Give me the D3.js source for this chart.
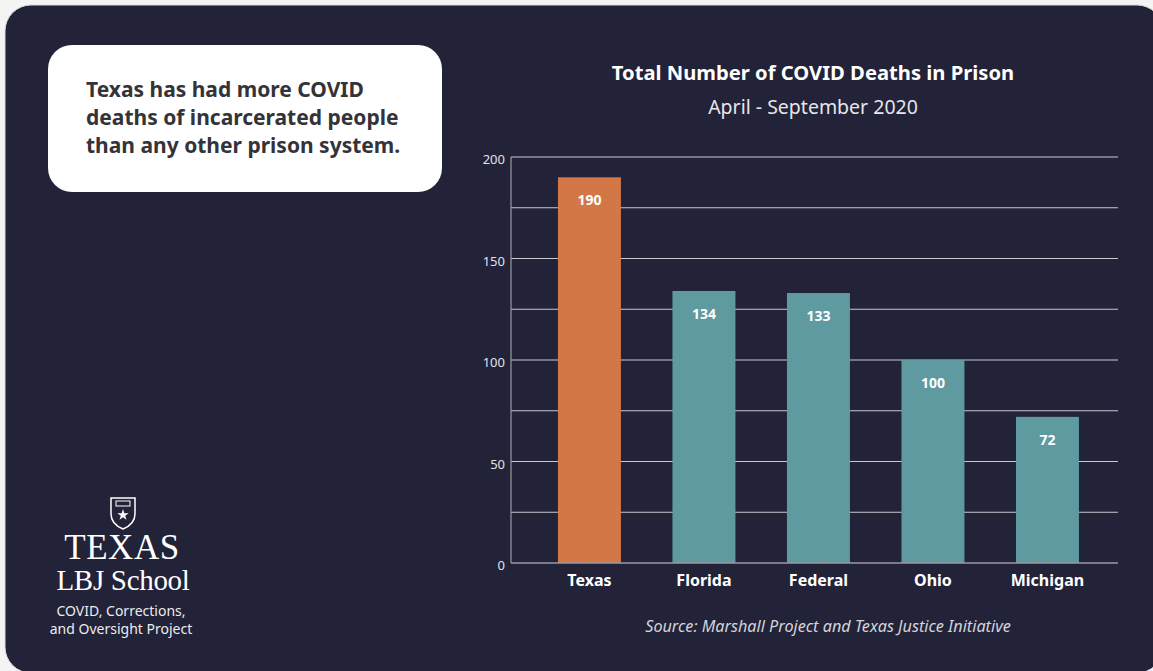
<!DOCTYPE html>
<html><head><meta charset="utf-8">
<script src="https://cdn.jsdelivr.net/npm/d3@7"></script>
<style>
html,body{margin:0;padding:0;background:#f4f4f5;}
svg{display:block;}
</style></head>
<body>
<svg id="c" width="1153" height="671"></svg>
<script>
const categories = ["Texas", "Florida", "Federal", "Ohio", "Michigan"];
const deaths = [190, 134, 133, 100, 72];
const highlight = ["Texas"];
const yTickLabels = [0, 50, 100, 150, 200];
const gridValues = [0, 25, 50, 75, 100, 125, 150, 175, 200];
const title = "Total Number of COVID Deaths in Prison";
const subtitle = "April - September 2020";
const source = "Source: Marshall Project and Texas Justice Initiative";
const callout = ["Texas has had more COVID", "deaths of incarcerated people", "than any other prison system."];
const orgLines = ["COVID, Corrections,", "and Oversight Project"];

const svg = d3.select("#c");
const W = 1153, H = 671;
const bg = "#222238";
const SANS = "'Noto Sans', 'Open Sans', sans-serif";

// panel
svg.append("rect").attr("x", 5).attr("y", 5).attr("width", 1158).attr("height", 668)
  .attr("rx", 26).attr("fill", bg).attr("stroke", "#dcdce0").attr("stroke-width", 1);

// callout
svg.append("rect").attr("x", 48).attr("y", 45).attr("width", 394).attr("height", 147).attr("rx", 24).attr("fill", "#ffffff");
svg.append("g").selectAll("text").data(callout).join("text")
  .attr("x", 86).attr("y", (d, i) => 97 + i * 28)
  .attr("font-family", SANS).attr("font-weight", 700)
  .attr("font-size", 21).attr("fill", "#333338").text(d => d);

// scales
const x = d3.scaleBand().domain(categories).range([523.6, 1113.3]).paddingInner(0.45).paddingOuter(0.3);
const y = d3.scaleLinear().domain([0, 200]).range([563, 157]);
const plotL = 511, plotR = 1118;

// grid
svg.append("g").selectAll("line").data(gridValues.filter(v => v > 0)).join("line")
  .attr("x1", plotL).attr("x2", plotR).attr("y1", d => y(d)).attr("y2", d => y(d))
  .attr("stroke", "#c9c9cf").attr("stroke-width", 1.2);

// y axis line & labels
svg.append("line").attr("x1", plotL).attr("x2", plotL).attr("y1", y(200)).attr("y2", y(0))
  .attr("stroke", "#9a9aa3").attr("stroke-width", 1.2);
svg.append("g").selectAll("text").data(yTickLabels).join("text")
  .attr("x", 505).attr("y", d => y(d) + 7).attr("text-anchor", "end")
  .attr("font-family", SANS).attr("font-size", 13)
  .attr("fill", "#e2e2e6").text(d => d);

// bars
const data = categories.map((c, i) => ({ c, v: deaths[i] }));
svg.append("g").selectAll("rect").data(data).join("rect")
  .attr("x", d => x(d.c)).attr("width", x.bandwidth())
  .attr("y", d => y(d.v)).attr("height", d => y(0) - y(d.v))
  .attr("fill", d => highlight.includes(d.c) ? "#d37747" : "#5f9aa0");

// x axis line
svg.append("line").attr("x1", plotL).attr("x2", plotR).attr("y1", y(0)).attr("y2", y(0))
  .attr("stroke", "#9a9aa3").attr("stroke-width", 1.5);

// value labels
svg.append("g").selectAll("text").data(data).join("text")
  .attr("x", d => x(d.c) + x.bandwidth() / 2).attr("y", d => y(d.v) + 28)
  .attr("text-anchor", "middle").attr("font-family", SANS)
  .attr("font-weight", 700).attr("font-size", 14).attr("fill", "#ffffff").text(d => d.v);

// category labels
svg.append("g").selectAll("text").data(data).join("text")
  .attr("x", d => x(d.c) + x.bandwidth() / 2).attr("y", 586)
  .attr("text-anchor", "middle").attr("font-family", SANS)
  .attr("font-weight", 700).attr("font-size", 16).attr("fill", "#ffffff").text(d => d.c);

// titles
svg.append("text").attr("x", 813).attr("y", 80).attr("text-anchor", "middle")
  .attr("font-family", SANS).attr("font-weight", 700)
  .attr("font-size", 20.2).attr("fill", "#ffffff").text(title);
svg.append("text").attr("x", 813).attr("y", 114).attr("text-anchor", "middle")
  .attr("font-family", SANS).attr("font-weight", 400)
  .attr("font-size", 19.5).attr("fill", "#e6e6ea").text(subtitle);
svg.append("text").attr("x", 828).attr("y", 632).attr("text-anchor", "middle")
  .attr("font-family", SANS).attr("font-style", "italic")
  .attr("font-size", 16.2).attr("fill", "#d4d4da").text(source);

// logo
const lg = svg.append("g").attr("transform", "translate(123,512)");
lg.append("path").attr("d", "M-12 -14 L12 -14 L12 2 Q12 12 0 17 Q-12 12 -12 2 Z")
  .attr("fill", "none").attr("stroke", "#ffffff").attr("stroke-width", 1.5);
lg.append("rect").attr("x", -7).attr("y", -11).attr("width", 14).attr("height", 5).attr("fill", "none").attr("stroke", "#ffffff").attr("stroke-width", 1);
lg.append("path").attr("d", d3.symbol(d3.symbolStar, 40)()).attr("transform", "translate(0,3)").attr("fill", "#ffffff");
svg.append("text").attr("x", 122).attr("y", 559).attr("text-anchor", "middle")
  .attr("font-family", "'Liberation Serif', 'DejaVu Serif', serif").attr("font-size", 35)
  .attr("letter-spacing", 0.5).attr("fill", "#ffffff").text("TEXAS");
svg.append("text").attr("x", 123).attr("y", 590).attr("text-anchor", "middle")
  .attr("font-family", "'Liberation Serif', 'DejaVu Serif', serif").attr("font-size", 29)
  .attr("letter-spacing", -0.3).attr("fill", "#ffffff").text("LBJ School");
svg.append("g").selectAll("text").data(orgLines).join("text")
  .attr("x", 121).attr("y", (d, i) => 616 + i * 18).attr("text-anchor", "middle")
  .attr("font-family", SANS).attr("font-size", 14)
  .attr("fill", "#ececf0").text(d => d);
</script>
</body></html>
